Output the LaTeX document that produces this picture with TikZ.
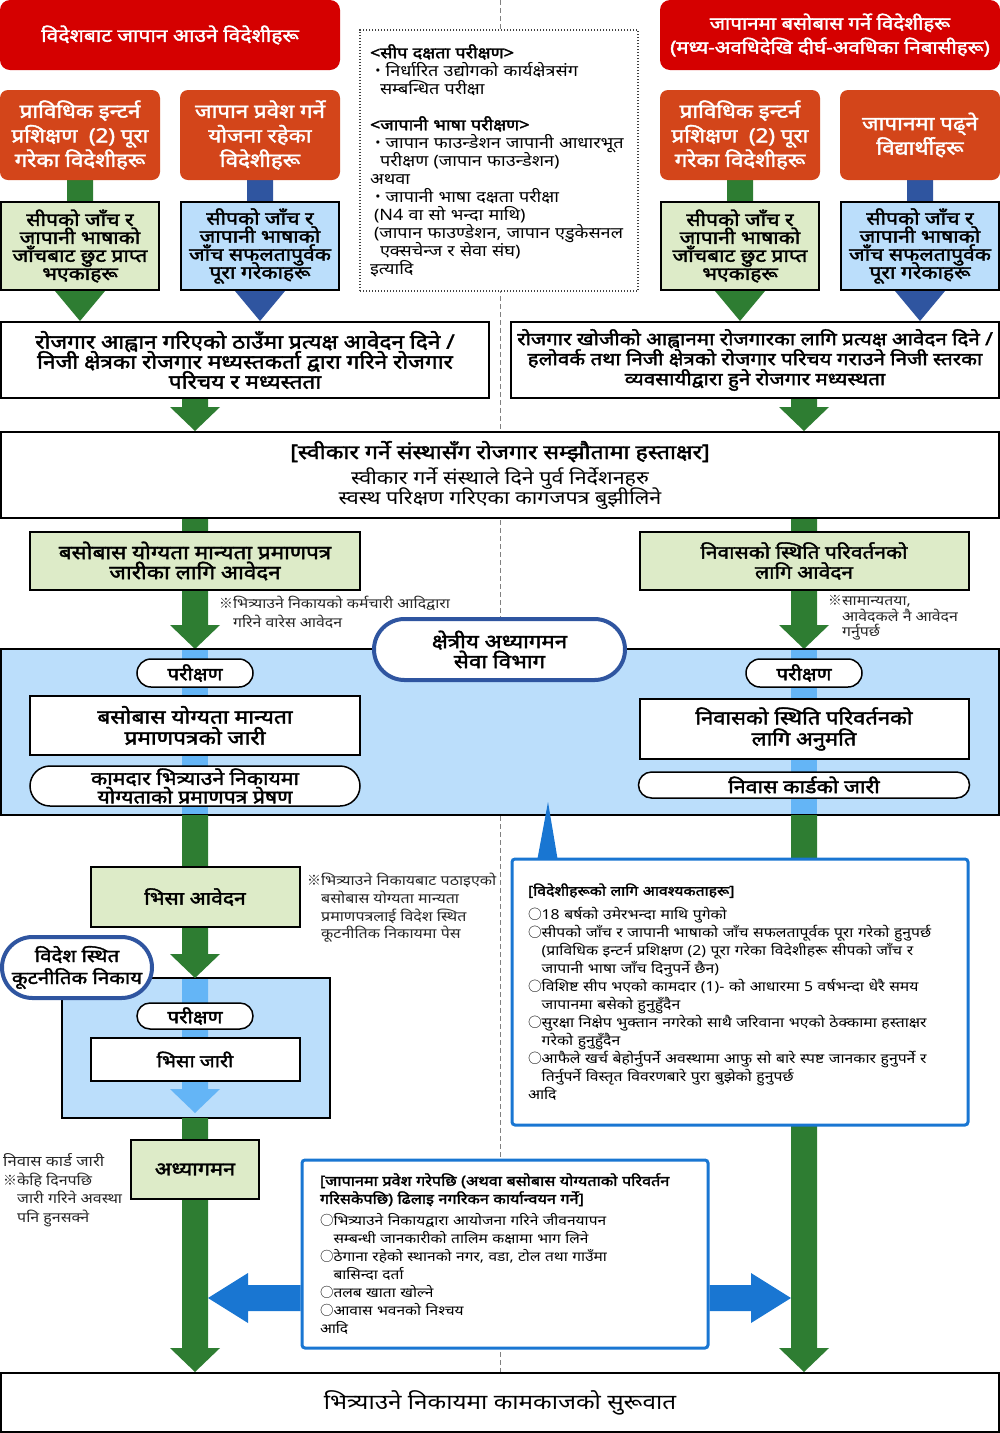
\documentclass[tikz,border=0pt]{standalone}
\usepackage{fontspec}
\setmainfont[Script=Devanagari, AutoFakeBold=2, FakeStretch=1.15]{Noto Sans}
\newfontfamily\jpfont{Noto Sans CJK JP}
\usetikzlibrary{shapes.misc,calc}

\pgfdeclarelayer{bg}
\pgfdeclarelayer{mid}
\pgfsetlayers{bg,mid,main}

\definecolor{imRed}{RGB}{213,0,0}
\definecolor{imOrange}{RGB}{211,69,26}
\definecolor{imGreen}{RGB}{46,125,50}
\definecolor{imNavy}{RGB}{47,85,160}
\definecolor{imSky}{RGB}{100,181,246}
\definecolor{imPale}{RGB}{187,222,251}
\definecolor{imLeaf}{RGB}{221,235,200}
\definecolor{imFrame}{RGB}{25,118,210}

\newcommand{\fs}[2]{\fontsize{#1}{#2}\selectfont\lineskiplimit=-40pt\relax}
\newcommand{\kome}{{\jpfont ※}}
\newcommand{\maru}{{\jpfont ○}}
\newcommand{\naka}{{\jpfont ・}}

% fat arrows: [head length]{colour}{from}{tip}
\newcommand{\blockdown}[4][24pt]{%
  \fill[#2] let \p1=(#3), \p2=(#4) in
    (\x1-13pt,\y1) -- (\x1+13pt,\y1) -- (\x1+13pt,\y2+#1) -- (\x1+25pt,\y2+#1)
    -- (\x1,\y2) -- (\x1-25pt,\y2+#1) -- (\x1-13pt,\y2+#1) -- cycle;}
\newcommand{\blockbar}[3]{%
  \fill[#1] let \p1=(#2), \p2=(#3) in (\x1-13pt,\y1) rectangle (\x1+13pt,\y2);}
\newcommand{\blockside}[4]{%
  \fill[#1] let \p1=(#2), \p2=(#3) in
    (\x1,\y1+13pt) -- ({\x2-(#4)},\y1+13pt) -- ({\x2-(#4)},\y1+25pt) -- (\x2,\y1)
    -- ({\x2-(#4)},\y1-25pt) -- ({\x2-(#4)},\y1-13pt) -- (\x1,\y1-13pt) -- cycle;}

\tikzset{
  head/.style={rounded corners=10pt, fill=imRed, text=white, align=center,
    minimum width=340pt, minimum height=70pt, font=\bfseries\fs{18.3}{24}},
  origin/.style={rounded corners=8pt, fill=imOrange, text=white, align=center,
    minimum width=160pt, minimum height=90pt, inner sep=1pt, font=\bfseries\fs{19.4}{24.5}},
  leaf/.style={draw=black, line width=2pt, fill=imLeaf, align=center, inner sep=1pt,
    font=\bfseries\fs{19.3}{20}},
  sky/.style={leaf, fill=imPale},
  plain/.style={leaf, fill=white},
  pill/.style={rounded rectangle, draw=black, line width=1.5pt, fill=white, align=center,
    inner sep=0pt, font=\bfseries\fs{17.9}{16}},
  office/.style={rounded rectangle, draw=imNavy, line width=4pt, fill=white, align=center,
    inner sep=1pt, font=\bfseries\fs{19.4}{20}},
  region/.style={fill=imPale, outer sep=0pt, inner sep=0pt},
  listbox/.style={draw=imFrame, line width=3pt, fill=white, rounded corners=3pt, align=left,
    font=\fs{13.7}{18}},
  note/.style={anchor=west, align=left, inner sep=0pt, font=\fs{13.8}{18}, text=black!85},
}

\begin{document}
\begin{tikzpicture}[x=1pt,y=-1pt]
  \useasboundingbox (0,0) rectangle (1000,1433);
  \begin{pgfonlayer}{bg}
    \draw[gray, line width=1pt, dash pattern=on 5pt off 3pt] (500,0) -- (500,1372);
    \node[region, minimum width=998pt, minimum height=166pt] (regA) at (500,732) {};
    \node[region, minimum width=268pt, minimum height=140pt] (regB) at (196,1048) {};
  \end{pgfonlayer}

  \node[head] (srcA) at (170,35) {विदेशबाट जापान आउने विदेशीहरू};
  \node[head, font=\bfseries\fs{17.8}{24}] (srcB) at (830,35) {जापानमा बसोबास गर्ने विदेशीहरू\\(मध्य-अवधिदेखि दीर्घ-अवधिका निबासीहरू)};

  \node[origin] (trainA) at (80,135) {प्राविधिक इन्टर्न\\प्रशिक्षण\ \ (2) पूरा\\गरेका विदेशीहरू};
  \node[origin] (planA) at (260,135) {जापान प्रवेश गर्ने\\योजना रहेका\\विदेशीहरू};
  \node[origin] (trainB) at (740,135) {प्राविधिक इन्टर्न\\प्रशिक्षण\ \ (2) पूरा\\गरेका विदेशीहरू};
  \node[origin] (studyB) at (920,135) {जापानमा पढ्ने\\विद्यार्थीहरू};

  \node[leaf, minimum width=158pt, minimum height=88pt, font=\bfseries\fs{18.3}{18}] (exemptA) at (80,246)
    {सीपको जाँच र\\जापानी भाषाको\\जाँचबाट छुट प्राप्त\\भएकाहरू};
  \node[sky, minimum width=158pt, minimum height=88pt, font=\bfseries\fs{18.3}{18}] (passA) at (260,246)
    {सीपको जाँच र\\जापानी भाषाको\\जाँच सफलतापुर्वक\\पूरा गरेकाहरू};
  \node[leaf, minimum width=158pt, minimum height=88pt, font=\bfseries\fs{18.3}{18}] (exemptB) at (740,246)
    {सीपको जाँच र\\जापानी भाषाको\\जाँचबाट छुट प्राप्त\\भएकाहरू};
  \node[sky, minimum width=158pt, minimum height=88pt, font=\bfseries\fs{18.3}{18}] (passB) at (920,246)
    {सीपको जाँच र\\जापानी भाषाको\\जाँच सफलतापुर्वक\\पूरा गरेकाहरू};

  \node[draw=black!75, line width=1.3pt, dash pattern=on 1.3pt off 1.7pt, fill=white,
    minimum width=278pt, minimum height=261pt, text width=258pt, align=left,
    font=\fs{15.7}{18}] (tests) at (499,160.5) {%
    \textbf{<सीप दक्षता परीक्षण>}\\
    \naka निर्धारित उद्योगको कार्यक्षेत्रसंग\\
    \hspace*{10pt}सम्बन्धित परीक्षा\\
    \mbox{}\\
    \textbf{<जापानी भाषा परीक्षण>}\\
    \naka जापान फाउन्डेशन जापानी आधारभूत\\
    \hspace*{10pt}परीक्षण (जापान फाउन्डेशन)\\
    अथवा\\
    \naka जापानी भाषा दक्षता परीक्षा\\
    \hspace*{4pt}(N4 वा सो भन्दा माथि)\\
    \hspace*{4pt}(जापान फाउण्डेशन, जापान एडुकेसनल\\
    \hspace*{10pt}एक्सचेन्ज र सेवा संघ)\\
    इत्यादि};

  \node[plain, minimum width=488pt, minimum height=76pt, font=\bfseries\fs{19.7}{20}] (jobA) at (245,360)
    {रोजगार आह्वान गरिएको ठाउँमा प्रत्यक्ष आवेदन दिने /\\निजी क्षेत्रका रोजगार मध्यस्तकर्ता द्वारा गरिने रोजगार\\परिचय र मध्यस्तता};
  \node[plain, minimum width=488pt, minimum height=76pt, font=\bfseries\fs{17.9}{20}] (jobB) at (755,360)
    {रोजगार खोजीको आह्वानमा रोजगारका लागि प्रत्यक्ष आवेदन दिने /\\हलोवर्क तथा निजी क्षेत्रको रोजगार परिचय गराउने निजी स्तरका\\व्यवसायीद्वारा हुने रोजगार मध्यस्थता};

  \node[plain, minimum width=998pt, minimum height=86pt, font=\fs{18.7}{20}] (contract) at (500,475)
    {\textbf{\fs{20.1}{20}[स्वीकार गर्ने संस्थासँग रोजगार सम्झौतामा हस्ताक्षर]}\\[5pt]स्वीकार गर्ने संस्थाले दिने पुर्व निर्देशनहरु\\स्वस्थ परिक्षण गरिएका कागजपत्र बुझीलिने};

  \node[leaf, minimum width=330pt, minimum height=58pt, font=\bfseries\fs{19.5}{20}] (certApply) at (195,561)
    {बसोबास योग्यता मान्यता प्रमाणपत्र\\जारीका लागि आवेदन};
  \node[leaf, minimum width=329pt, minimum height=58pt, font=\bfseries\fs{18.2}{20}] (changeApply) at (804,561)
    {निवासको स्थिति परिवर्तनको\\लागि आवेदन};
  \node[note, font=\fs{13.8}{19}] (noteAgent) at (219,612)
    {\kome भित्र्याउने निकायको कर्मचारी आदिद्वारा\\\hspace*{14pt}गरिने वारेस आवेदन};
  \node[note, font=\fs{13.8}{15.5}] (noteSelf) at (828,618)
    {\kome सामान्यतया,\\\hspace*{14pt}आवेदकले नै आवेदन\\\hspace*{14pt}गर्नुपर्छ};

  \node[office, minimum width=253pt, minimum height=61pt] (bureau) at (499.5,649.5)
    {क्षेत्रीय अध्यागमन\\सेवा विभाग};
  \node[pill, minimum width=116pt, minimum height=28pt] (examA) at (195,673) {परीक्षण};
  \node[plain, minimum width=330pt, minimum height=59pt, font=\bfseries\fs{19.7}{21}] (certIssue) at (195,725.5)
    {बसोबास योग्यता मान्यता\\प्रमाणपत्रको जारी};
  \node[pill, minimum width=330pt, minimum height=40pt, font=\bfseries\fs{18.4}{18.5}] (certSend) at (195,786)
    {कामदार भित्र्याउने निकायमा\\योग्यताको प्रमाणपत्र प्रेषण};
  \node[pill, minimum width=116pt, minimum height=28pt] (examB) at (804,673) {परीक्षण};
  \node[plain, minimum width=329pt, minimum height=60pt, font=\bfseries\fs{19.1}{21}] (changeOK) at (804,729)
    {निवासको स्थिति परिवर्तनको\\लागि अनुमति};
  \node[pill, minimum width=331pt, minimum height=26pt, font=\bfseries\fs{18.6}{16}] (cardIssue) at (804,785)
    {निवास कार्डको जारी};

  \node[leaf, minimum width=209pt, minimum height=60pt, font=\bfseries\fs{18.3}{20}] (visaApply) at (195,897)
    {भिसा आवेदन};
  \node[note, font=\fs{13.9}{17.7}] (noteVisa) at (307,908)
    {\kome भित्र्याउने निकायबाट पठाइएको\\\hspace*{14pt}बसोबास योग्यता मान्यता\\\hspace*{14pt}प्रमाणपत्रलाई विदेश स्थित\\\hspace*{14pt}कूटनीतिक निकायमा पेस};
  \node[office, minimum width=152pt, minimum height=61pt, font=\bfseries\fs{17.8}{22}] (embassy) at (77,967.5)
    {विदेश स्थित\\कूटनीतिक निकाय};
  \node[pill, minimum width=116pt, minimum height=26pt] (examV) at (195,1016) {परीक्षण};
  \node[plain, minimum width=209pt, minimum height=43pt, font=\bfseries\fs{17.4}{20}] (visaIssue) at (195,1059.5)
    {भिसा जारी};
  \node[leaf, minimum width=128pt, minimum height=59pt, font=\bfseries\fs{18.9}{20}] (landing) at (195,1169.5)
    {अध्यागमन};
  \node[note, font=\fs{13.9}{18.5}] (noteCard) at (3,1190)
    {{\fs{14.5}{18.5}निवास कार्ड जारी}\\\kome केहि दिनपछि\\\hspace*{14pt}जारी गरिने अवस्था\\\hspace*{14pt}पनि हुनसक्ने};

  \node[listbox, minimum width=456pt, minimum height=266pt, text width=424pt] (needs) at (740,992) {%
    \textbf{[विदेशीहरूको लागि आवश्यकताहरू]}\\[6pt]
    \maru 18 बर्षको उमेरभन्दा माथि पुगेको\\
    \maru सीपको जाँच र जापानी भाषाको जाँच सफलतापूर्वक पूरा गरेको हुनुपर्छ\\
    \hspace*{13.7pt}(प्राविधिक इन्टर्न प्रशिक्षण (2) पूरा गरेका विदेशीहरू सीपको जाँच र\\
    \hspace*{13.7pt}जापानी भाषा जाँच दिनुपर्ने छैन)\\
    \maru विशिष्ट सीप भएको कामदार (1)- को आधारमा 5 वर्षभन्दा धेरै समय\\
    \hspace*{13.7pt}जापानमा बसेको हुनुहुँदैन\\
    \maru सुरक्षा निक्षेप भुक्तान नगरेको साथै जरिवाना भएको ठेक्कामा हस्ताक्षर\\
    \hspace*{13.7pt}गरेको हुनुहुँदैन\\
    \maru आफैले खर्च बेहोर्नुपर्ने अवस्थामा आफु सो बारे स्पष्ट जानकार हुनुपर्ने र\\
    \hspace*{13.7pt}तिर्नुपर्ने विस्तृत विवरणबारे पुरा बुझेको हुनुपर्छ\\
    आदि};
  \coordinate (pointTip) at (548,802);
  \fill[imFrame] ($(needs.north west)+(27,1)$) -- (pointTip) -- ($(needs.north west)+(47,1)$) -- cycle;

  \node[listbox, minimum width=406pt, minimum height=188pt, text width=370pt, font=\fs{13.5}{18}] (arrive) at (505,1254) {%
    \textbf{\fs{14.1}{18}[जापानमा प्रवेश गरेपछि (अथवा बसोबास योग्यताको परिवर्तन}\\
    \textbf{\fs{14.1}{18}गरिसकेपछि) ढिलाइ नगरिकन कार्यान्वयन गर्ने]}\\[4pt]
    \maru भित्र्याउने निकायद्वारा आयोजना गरिने जीवनयापन\\
    \hspace*{13.5pt}सम्बन्धी जानकारीको तालिम कक्षामा भाग लिने\\
    \maru ठेगाना रहेको स्थानको नगर, वडा, टोल तथा गाउँमा\\
    \hspace*{13.5pt}बासिन्दा दर्ता\\
    \maru तलब खाता खोल्ने\\
    \maru आवास भवनको निश्चय\\
    आदि};
  \coordinate (leftHit) at (208,1298);
  \coordinate (rightHit) at (791,1298);
  \blockside{imFrame}{arrive.west |- leftHit}{leftHit}{-40pt}
  \blockside{imFrame}{arrive.east |- rightHit}{rightHit}{40pt}

  \node[plain, minimum width=998pt, minimum height=59pt, font=\fs{21.1}{24}] (start) at (500,1402.5)
    {भित्र्याउने निकायमा कामकाजको सुरूवात};

  \begin{pgfonlayer}{mid}
    \blockdown[30pt]{imGreen}{trainA.south}{trainA.south |- jobA.north}
    \blockdown[30pt]{imNavy}{planA.south}{planA.south |- jobA.north}
    \blockdown[30pt]{imGreen}{trainB.south}{trainB.south |- jobB.north}
    \blockdown[30pt]{imNavy}{studyB.south}{studyB.south |- jobB.north}
    \blockdown{imGreen}{certApply.north |- jobA.south}{certApply.north |- contract.north}
    \blockdown{imGreen}{changeApply.north |- jobB.south}{changeApply.north |- contract.north}
    \blockdown{imGreen}{certApply.north |- contract.south}{certApply.north |- regA.north}
    \blockdown{imGreen}{changeApply.north |- contract.south}{changeApply.north |- regA.north}
    \blockbar{imSky}{examA.north |- regA.north}{examA.north |- regA.south}
    \blockbar{imSky}{examB.north |- regA.north}{examB.north |- regA.south}
    \blockdown{imSky}{examV.north |- regB.north}{$(examV.north |- regB.south)+(0,-5)$}
    \draw[line width=1.5pt] (regA.north west) rectangle (regA.south east);
    \draw[line width=1.5pt] (regB.north west) rectangle (regB.south east);
    \blockdown{imGreen}{visaApply.north |- regA.south}{visaApply.north |- regB.north}
    \blockdown{imGreen}{landing.north |- regB.south}{landing.north |- start.north}
    \blockdown{imGreen}{changeOK.north |- regA.south}{changeOK.north |- start.north}
  \end{pgfonlayer}
\end{tikzpicture}
\end{document}
